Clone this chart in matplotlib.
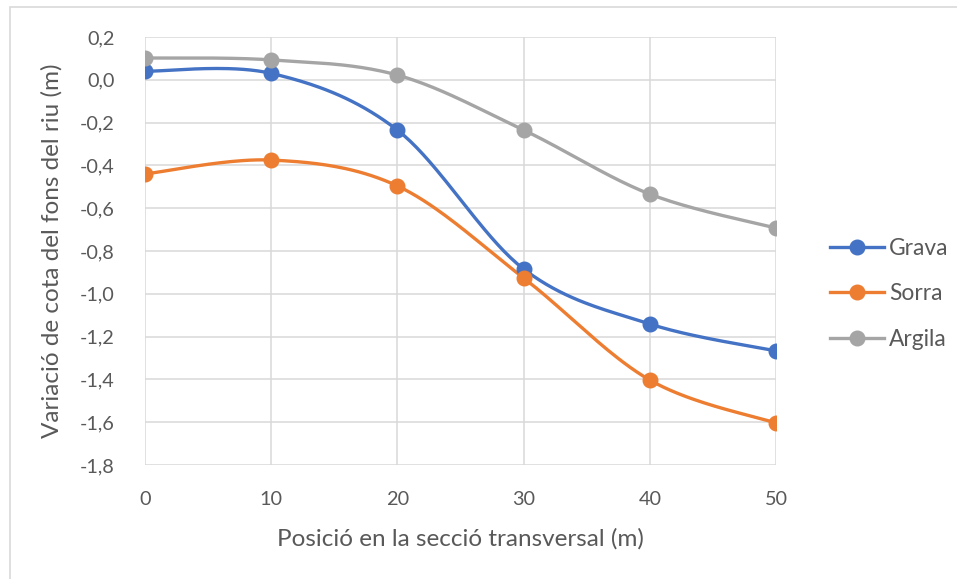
import numpy as np
import matplotlib
matplotlib.use("Agg")
import matplotlib.pyplot as plt
from matplotlib.patches import Rectangle
from matplotlib.ticker import FuncFormatter

x = [0, 10, 20, 30, 40, 50]
grava = [0.04, 0.03, -0.235, -0.884, -1.141, -1.267]
sorra = [-0.44, -0.375, -0.496, -0.926, -1.403, -1.604]
argila = [0.102, 0.093, 0.022, -0.235, -0.534, -0.693]
series = [("Grava", grava, "#4472C4"), ("Sorra", sorra, "#ED7D31"), ("Argila", argila, "#A5A5A5")]

plt.rcParams['font.family'] = ['Lato', 'DejaVu Sans']

def smooth(xs, ys, n=40):
    xs = np.asarray(xs, float); ys = np.asarray(ys, float)
    P = np.column_stack([xs, ys])
    out = []
    for i in range(len(P) - 1):
        p0 = P[i - 1] if i > 0 else P[i]
        p1 = P[i]; p2 = P[i + 1]
        p3 = P[i + 2] if i + 2 < len(P) else P[i + 1]
        c1 = p1 + (p2 - p0) / 6.0
        c2 = p2 - (p3 - p1) / 6.0
        t = np.linspace(0, 1, n)[:, None]
        seg = (1 - t) ** 3 * p1 + 3 * (1 - t) ** 2 * t * c1 + 3 * (1 - t) * t ** 2 * c2 + t ** 3 * p2
        out.append(seg if i == 0 else seg[1:])
    s = np.vstack(out)
    return s[:, 0], s[:, 1]

fig = plt.figure(figsize=(9.57, 5.79), dpi=100)
fig.patches.append(Rectangle((10 / 957, -0.05), 1.1, 1 - 7 / 579 + 0.05, transform=fig.transFigure,
                             fill=False, edgecolor="#d9d9d9", linewidth=1.2))
ax = fig.add_axes([145 / 957, 1 - 465 / 579, (776 - 145) / 957, (465 - 37) / 579])

for name, ys, c in series:
    sx, sy = smooth(x, ys)
    ax.plot(sx, sy, color=c, linewidth=2.4, solid_capstyle='round', zorder=3)
    ax.plot(x, ys, linestyle='none', marker='o', markersize=10.5, color=c, zorder=4)
    ax.plot([], [], color=c, linewidth=2.4, marker='o', markersize=10.5, label=name)

ax.set_xlim(0, 50)
ax.set_ylim(-1.8, 0.2)
ax.set_xticks(x)
ax.set_yticks(np.round(np.arange(-1.8, 0.21, 0.2), 1))
ax.yaxis.set_major_formatter(FuncFormatter(lambda v, p: f"{v:.1f}".replace('.', ',').replace('-0,0', '0,0')))
ax.grid(True, color="#d9d9d9", linewidth=1.1)
ax.set_axisbelow(True)
for s in ax.spines.values():
    s.set_visible(False)
ax.tick_params(length=0, labelsize=14.3, labelcolor="#595959")
ax.tick_params(axis='y', pad=22)
ax.tick_params(axis='x', pad=19)
ax.set_xlabel("Posició en la secció transversal (m)", fontsize=17.5, color="#595959", labelpad=14)
ax.set_ylabel("Variació de cota del fons del riu (m)", fontsize=17.5, color="#595959", labelpad=12)

leg = ax.legend(loc='center left', bbox_to_anchor=(1.085, 0.40), frameon=False, fontsize=16.4,
                labelcolor="#595959", handlelength=2.4, labelspacing=1.08, handletextpad=0.2,
                borderaxespad=0, borderpad=0)

fig.savefig("out.png", dpi=100)
